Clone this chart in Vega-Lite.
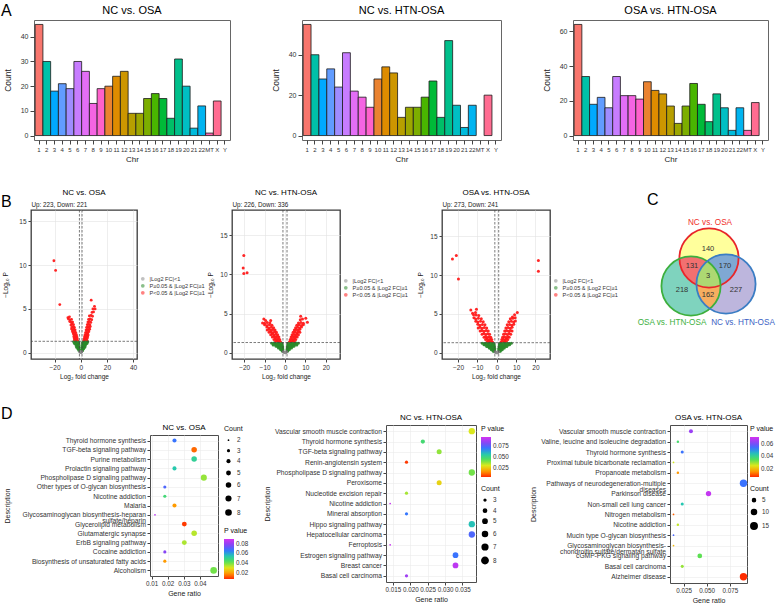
{
"$schema":"https://vega.github.io/schema/vega-lite/v6.json",
"padding":{"left":1,"top":2,"right":0,"bottom":0},
"background":"white",
"config":{
 "font":"Liberation Sans",
 "title":{"fontWeight":"normal","color":"#000"},
 "axis":{"labelColor":"#333","titleColor":"#222","titleFontWeight":"normal","tickColor":"#444","domainColor":"#444"},
 "legend":{"titleFontWeight":"normal","titleColor":"#111","labelColor":"#333"}
},
"datasets":{
 "chr1":[{"chr":"1","n":45},{"chr":"2","n":30},{"chr":"3","n":18},{"chr":"4","n":21},{"chr":"5","n":19},{"chr":"6","n":30},{"chr":"7","n":26},{"chr":"8","n":13},{"chr":"9","n":19},{"chr":"10","n":20},{"chr":"11","n":24},{"chr":"12","n":26},{"chr":"13","n":9},{"chr":"14","n":9},{"chr":"15","n":15},{"chr":"16","n":17},{"chr":"17","n":15},{"chr":"18","n":7},{"chr":"19","n":31},{"chr":"20","n":20},{"chr":"21","n":3},{"chr":"22","n":12},{"chr":"MT","n":1},{"chr":"X","n":14}],
 "chr2":[{"chr":"1","n":55},{"chr":"2","n":40},{"chr":"3","n":28},{"chr":"4","n":33},{"chr":"5","n":24},{"chr":"6","n":41},{"chr":"7","n":22},{"chr":"8","n":19},{"chr":"9","n":14},{"chr":"10","n":28},{"chr":"11","n":34},{"chr":"12","n":31},{"chr":"13","n":9},{"chr":"14","n":14},{"chr":"15","n":14},{"chr":"16","n":19},{"chr":"17","n":27},{"chr":"18","n":9},{"chr":"19","n":47},{"chr":"20","n":15},{"chr":"21","n":4},{"chr":"22","n":15},{"chr":"X","n":20}],
 "chr3":[{"chr":"1","n":64},{"chr":"2","n":34},{"chr":"3","n":18},{"chr":"4","n":22},{"chr":"5","n":16},{"chr":"6","n":34},{"chr":"7","n":23},{"chr":"8","n":23},{"chr":"9","n":21},{"chr":"10","n":31},{"chr":"11","n":26},{"chr":"12","n":24},{"chr":"13","n":17},{"chr":"14","n":7},{"chr":"15","n":17},{"chr":"16","n":30},{"chr":"17","n":18},{"chr":"18","n":8},{"chr":"19","n":24},{"chr":"20","n":16},{"chr":"21","n":3},{"chr":"22","n":16},{"chr":"MT","n":3},{"chr":"X","n":19}],
 "v1":[
{"x":-20.5,"y":10.5,"g":"s"},{"x":-19.2,"y":9.4,"g":"s"},{"x":-16,"y":5.5,"g":"s"},
{"x":-2.4,"y":1.4,"g":"s"},{"x":-3,"y":1.45,"g":"s"},{"x":-3.6,"y":1.38,"g":"s"},{"x":-4.2,"y":1.5,"g":"s"},{"x":-4.8,"y":1.42,"g":"s"},
{"x":-2.7,"y":1.65,"g":"s"},{"x":-3.4,"y":1.58,"g":"s"},{"x":-4.1,"y":1.7,"g":"s"},{"x":-4.9,"y":1.62,"g":"s"},
{"x":-3,"y":1.85,"g":"s"},{"x":-3.7,"y":1.78,"g":"s"},{"x":-4.5,"y":1.9,"g":"s"},{"x":-5.3,"y":1.82,"g":"s"},
{"x":-3.3,"y":2.05,"g":"s"},{"x":-4.1,"y":2.1,"g":"s"},{"x":-4.9,"y":2.0,"g":"s"},{"x":-5.7,"y":2.15,"g":"s"},
{"x":-3.8,"y":2.3,"g":"s"},{"x":-4.6,"y":2.38,"g":"s"},{"x":-5.5,"y":2.28,"g":"s"},{"x":-6.3,"y":2.4,"g":"s"},
{"x":-4.3,"y":2.6,"g":"s"},{"x":-5.2,"y":2.68,"g":"s"},{"x":-6.1,"y":2.55,"g":"s"},{"x":-7,"y":2.7,"g":"s"},
{"x":-4.9,"y":2.9,"g":"s"},{"x":-5.8,"y":2.98,"g":"s"},{"x":-6.8,"y":2.88,"g":"s"},
{"x":-5.5,"y":3.2,"g":"s"},{"x":-6.5,"y":3.28,"g":"s"},{"x":-7.5,"y":3.15,"g":"s"},
{"x":-6.2,"y":3.5,"g":"s"},{"x":-7.3,"y":3.45,"g":"s"},{"x":-8.4,"y":3.55,"g":"s"},
{"x":-7,"y":3.8,"g":"s"},{"x":-8.2,"y":3.75,"g":"s"},{"x":-9.4,"y":3.85,"g":"s"},
{"x":-9.8,"y":4,"g":"s"},{"x":-8.6,"y":4.1,"g":"s"},
{"x":2.4,"y":1.4,"g":"s"},{"x":3,"y":1.48,"g":"s"},{"x":3.6,"y":1.38,"g":"s"},{"x":4.2,"y":1.45,"g":"s"},{"x":4.8,"y":1.4,"g":"s"},
{"x":2.7,"y":1.62,"g":"s"},{"x":3.4,"y":1.68,"g":"s"},{"x":4.1,"y":1.58,"g":"s"},{"x":4.9,"y":1.66,"g":"s"},
{"x":3,"y":1.85,"g":"s"},{"x":3.7,"y":1.8,"g":"s"},{"x":4.5,"y":1.9,"g":"s"},{"x":5.3,"y":1.82,"g":"s"},
{"x":3.3,"y":2.05,"g":"s"},{"x":4.1,"y":2.0,"g":"s"},{"x":4.9,"y":2.12,"g":"s"},{"x":5.7,"y":2.02,"g":"s"},
{"x":3.7,"y":2.3,"g":"s"},{"x":4.5,"y":2.36,"g":"s"},{"x":5.4,"y":2.26,"g":"s"},{"x":6.2,"y":2.4,"g":"s"},
{"x":4.1,"y":2.6,"g":"s"},{"x":5,"y":2.66,"g":"s"},{"x":5.9,"y":2.56,"g":"s"},{"x":6.8,"y":2.68,"g":"s"},
{"x":4.5,"y":2.9,"g":"s"},{"x":5.5,"y":2.96,"g":"s"},{"x":6.5,"y":2.86,"g":"s"},{"x":7.3,"y":2.98,"g":"s"},
{"x":5,"y":3.2,"g":"s"},{"x":6,"y":3.26,"g":"s"},{"x":7,"y":3.16,"g":"s"},
{"x":5.5,"y":3.5,"g":"s"},{"x":6.6,"y":3.56,"g":"s"},{"x":7.7,"y":3.46,"g":"s"},
{"x":6,"y":3.8,"g":"s"},{"x":7.2,"y":3.86,"g":"s"},{"x":8.4,"y":3.76,"g":"s"},
{"x":6.6,"y":4.2,"g":"s"},{"x":7.9,"y":4.26,"g":"s"},{"x":9,"y":4.16,"g":"s"},
{"x":8.6,"y":4.6,"g":"s"},{"x":9.8,"y":4.66,"g":"s"},{"x":9.3,"y":5,"g":"s"},{"x":11,"y":5,"g":"s"},{"x":10.5,"y":5.3,"g":"s"},{"x":8,"y":6,"g":"s"},
{"x":-1.5,"y":1.2,"g":"f"},{"x":-2.5,"y":1.15,"g":"f"},{"x":-3.5,"y":1.22,"g":"f"},{"x":-4.5,"y":1.18,"g":"f"},{"x":-5.5,"y":1.24,"g":"f"},
{"x":1.5,"y":1.2,"g":"f"},{"x":2.5,"y":1.16,"g":"f"},{"x":3.5,"y":1.22,"g":"f"},{"x":4.5,"y":1.18,"g":"f"},{"x":5.5,"y":1.24,"g":"f"},
{"x":-1.3,"y":1,"g":"f"},{"x":-2.2,"y":0.96,"g":"f"},{"x":-3.1,"y":1.02,"g":"f"},{"x":-4,"y":0.98,"g":"f"},{"x":-4.9,"y":1.04,"g":"f"},
{"x":1.3,"y":1,"g":"f"},{"x":2.2,"y":0.96,"g":"f"},{"x":3.1,"y":1.02,"g":"f"},{"x":4,"y":0.98,"g":"f"},{"x":4.9,"y":1.04,"g":"f"},
{"x":-1.2,"y":0.8,"g":"f"},{"x":-2,"y":0.78,"g":"f"},{"x":-2.8,"y":0.82,"g":"f"},{"x":-3.6,"y":0.8,"g":"f"},
{"x":1.2,"y":0.8,"g":"f"},{"x":2,"y":0.78,"g":"f"},{"x":2.8,"y":0.82,"g":"f"},{"x":3.6,"y":0.8,"g":"f"},
{"x":-1.1,"y":0.6,"g":"f"},{"x":-1.8,"y":0.58,"g":"f"},{"x":-2.5,"y":0.62,"g":"f"},{"x":-3.2,"y":0.6,"g":"f"},
{"x":1.1,"y":0.6,"g":"f"},{"x":1.8,"y":0.58,"g":"f"},{"x":2.5,"y":0.62,"g":"f"},{"x":3.2,"y":0.6,"g":"f"},
{"x":-1.05,"y":0.4,"g":"f"},{"x":-1.6,"y":0.4,"g":"f"},{"x":-2.2,"y":0.42,"g":"f"},{"x":1.05,"y":0.4,"g":"f"},{"x":1.6,"y":0.4,"g":"f"},{"x":2.2,"y":0.42,"g":"f"},
{"x":-1,"y":0.2,"g":"f"},{"x":-1.4,"y":0.22,"g":"f"},{"x":1,"y":0.2,"g":"f"},{"x":1.4,"y":0.22,"g":"f"},
{"x":0,"y":0.02,"g":"n"},{"x":-0.5,"y":0.05,"g":"n"},{"x":0.5,"y":0.05,"g":"n"},{"x":-0.8,"y":0.12,"g":"n"},{"x":0.8,"y":0.12,"g":"n"},{"x":0.2,"y":0.01,"g":"n"}],
 "v2":[
{"x":-20.2,"y":12.4,"g":"s"},{"x":-20.5,"y":10.8,"g":"s"},{"x":-20.2,"y":10.1,"g":"s"},{"x":-18.6,"y":10.2,"g":"s"},
{"x":-2.2,"y":1.4,"g":"s"},{"x":-2.8,"y":1.46,"g":"s"},{"x":-3.4,"y":1.38,"g":"s"},{"x":-4,"y":1.5,"g":"s"},{"x":-4.6,"y":1.42,"g":"s"},
{"x":-2.6,"y":1.7,"g":"s"},{"x":-3.3,"y":1.76,"g":"s"},{"x":-4,"y":1.66,"g":"s"},{"x":-4.7,"y":1.78,"g":"s"},{"x":-5.4,"y":1.7,"g":"s"},
{"x":-3,"y":2,"g":"s"},{"x":-3.8,"y":2.06,"g":"s"},{"x":-4.6,"y":1.96,"g":"s"},{"x":-5.4,"y":2.08,"g":"s"},{"x":-6.2,"y":2,"g":"s"},
{"x":-3.6,"y":2.3,"g":"s"},{"x":-4.5,"y":2.36,"g":"s"},{"x":-5.4,"y":2.26,"g":"s"},{"x":-6.3,"y":2.38,"g":"s"},{"x":-7,"y":2.3,"g":"s"},
{"x":-4.2,"y":2.6,"g":"s"},{"x":-5.1,"y":2.66,"g":"s"},{"x":-6,"y":2.56,"g":"s"},{"x":-6.9,"y":2.68,"g":"s"},{"x":-7.8,"y":2.6,"g":"s"},
{"x":-4.9,"y":2.9,"g":"s"},{"x":-5.9,"y":2.96,"g":"s"},{"x":-6.9,"y":2.86,"g":"s"},{"x":-7.9,"y":2.98,"g":"s"},{"x":-8.7,"y":2.9,"g":"s"},
{"x":-5.6,"y":3.2,"g":"s"},{"x":-6.7,"y":3.26,"g":"s"},{"x":-7.8,"y":3.16,"g":"s"},{"x":-8.9,"y":3.28,"g":"s"},
{"x":-6.4,"y":3.5,"g":"s"},{"x":-7.6,"y":3.56,"g":"s"},{"x":-8.8,"y":3.46,"g":"s"},{"x":-10,"y":3.58,"g":"s"},
{"x":-7.4,"y":3.8,"g":"s"},{"x":-8.7,"y":3.86,"g":"s"},{"x":-10,"y":3.76,"g":"s"},{"x":-11,"y":3.8,"g":"s"},
{"x":-7,"y":4.1,"g":"s"},{"x":-9.5,"y":4.1,"g":"s"},{"x":-10.4,"y":4.3,"g":"s"},
{"x":2.2,"y":1.4,"g":"s"},{"x":2.8,"y":1.46,"g":"s"},{"x":3.4,"y":1.38,"g":"s"},{"x":4,"y":1.5,"g":"s"},{"x":4.6,"y":1.42,"g":"s"},
{"x":2.6,"y":1.7,"g":"s"},{"x":3.3,"y":1.76,"g":"s"},{"x":4,"y":1.66,"g":"s"},{"x":4.7,"y":1.78,"g":"s"},{"x":5.3,"y":1.7,"g":"s"},
{"x":3,"y":2,"g":"s"},{"x":3.8,"y":2.06,"g":"s"},{"x":4.6,"y":1.96,"g":"s"},{"x":5.4,"y":2.08,"g":"s"},{"x":6,"y":2,"g":"s"},
{"x":3.5,"y":2.3,"g":"s"},{"x":4.3,"y":2.36,"g":"s"},{"x":5.1,"y":2.26,"g":"s"},{"x":5.9,"y":2.38,"g":"s"},{"x":6.6,"y":2.3,"g":"s"},
{"x":4,"y":2.6,"g":"s"},{"x":4.9,"y":2.66,"g":"s"},{"x":5.8,"y":2.56,"g":"s"},{"x":6.6,"y":2.68,"g":"s"},{"x":7.3,"y":2.6,"g":"s"},
{"x":4.6,"y":2.9,"g":"s"},{"x":5.5,"y":2.96,"g":"s"},{"x":6.4,"y":2.86,"g":"s"},{"x":7.3,"y":2.98,"g":"s"},
{"x":5.2,"y":3.2,"g":"s"},{"x":6.2,"y":3.26,"g":"s"},{"x":7.2,"y":3.16,"g":"s"},{"x":8.1,"y":3.28,"g":"s"},
{"x":5.8,"y":3.5,"g":"s"},{"x":6.9,"y":3.56,"g":"s"},{"x":8,"y":3.46,"g":"s"},{"x":9,"y":3.58,"g":"s"},
{"x":6.6,"y":3.8,"g":"s"},{"x":7.8,"y":3.86,"g":"s"},{"x":9,"y":3.76,"g":"s"},{"x":11,"y":3.9,"g":"s"},
{"x":7.5,"y":4.2,"g":"s"},{"x":8.6,"y":4.3,"g":"s"},{"x":7.7,"y":4.65,"g":"s"},{"x":10.2,"y":4.4,"g":"s"},
{"x":-1.5,"y":1.2,"g":"f"},{"x":-2.5,"y":1.16,"g":"f"},{"x":-3.5,"y":1.22,"g":"f"},{"x":-4.5,"y":1.18,"g":"f"},{"x":-5.5,"y":1.24,"g":"f"},{"x":-6.5,"y":1.2,"g":"f"},
{"x":1.5,"y":1.2,"g":"f"},{"x":2.5,"y":1.16,"g":"f"},{"x":3.5,"y":1.22,"g":"f"},{"x":4.5,"y":1.18,"g":"f"},{"x":5.5,"y":1.24,"g":"f"},{"x":6.5,"y":1.2,"g":"f"},
{"x":-1.3,"y":1,"g":"f"},{"x":-2.2,"y":0.96,"g":"f"},{"x":-3.1,"y":1.02,"g":"f"},{"x":-4,"y":0.98,"g":"f"},{"x":-4.9,"y":1.04,"g":"f"},{"x":-5.8,"y":1,"g":"f"},
{"x":1.3,"y":1,"g":"f"},{"x":2.2,"y":0.96,"g":"f"},{"x":3.1,"y":1.02,"g":"f"},{"x":4,"y":0.98,"g":"f"},{"x":4.9,"y":1.04,"g":"f"},{"x":5.8,"y":1,"g":"f"},
{"x":-1.2,"y":0.8,"g":"f"},{"x":-2,"y":0.78,"g":"f"},{"x":-2.8,"y":0.82,"g":"f"},{"x":-3.6,"y":0.8,"g":"f"},{"x":-4.4,"y":0.82,"g":"f"},
{"x":1.2,"y":0.8,"g":"f"},{"x":2,"y":0.78,"g":"f"},{"x":2.8,"y":0.82,"g":"f"},{"x":3.6,"y":0.8,"g":"f"},{"x":4.4,"y":0.82,"g":"f"},
{"x":-1.1,"y":0.6,"g":"f"},{"x":-1.8,"y":0.58,"g":"f"},{"x":-2.5,"y":0.62,"g":"f"},{"x":-3.2,"y":0.6,"g":"f"},
{"x":1.1,"y":0.6,"g":"f"},{"x":1.8,"y":0.58,"g":"f"},{"x":2.5,"y":0.62,"g":"f"},{"x":3.2,"y":0.6,"g":"f"},
{"x":-1.05,"y":0.4,"g":"f"},{"x":-1.6,"y":0.4,"g":"f"},{"x":-2.2,"y":0.42,"g":"f"},{"x":1.05,"y":0.4,"g":"f"},{"x":1.6,"y":0.4,"g":"f"},{"x":2.2,"y":0.42,"g":"f"},
{"x":-1,"y":0.2,"g":"f"},{"x":-1.4,"y":0.22,"g":"f"},{"x":1,"y":0.2,"g":"f"},{"x":1.4,"y":0.22,"g":"f"},
{"x":0,"y":0.02,"g":"n"},{"x":-0.5,"y":0.05,"g":"n"},{"x":0.5,"y":0.05,"g":"n"},{"x":-0.8,"y":0.12,"g":"n"},{"x":0.8,"y":0.12,"g":"n"},{"x":0.2,"y":0.01,"g":"n"}],
 "v3":[
{"x":-22.9,"y":12.1,"g":"s"},{"x":-20.9,"y":12.55,"g":"s"},{"x":-19.8,"y":9.5,"g":"s"},{"x":21.5,"y":11.9,"g":"s"},{"x":21.5,"y":10.5,"g":"s"},
{"x":-2.2,"y":1.4,"g":"s"},{"x":-2.9,"y":1.46,"g":"s"},{"x":-3.6,"y":1.38,"g":"s"},{"x":-4.3,"y":1.5,"g":"s"},{"x":-5,"y":1.42,"g":"s"},
{"x":-2.6,"y":1.7,"g":"s"},{"x":-3.4,"y":1.76,"g":"s"},{"x":-4.2,"y":1.66,"g":"s"},{"x":-5,"y":1.78,"g":"s"},{"x":-5.8,"y":1.7,"g":"s"},
{"x":-3.1,"y":2,"g":"s"},{"x":-4,"y":2.06,"g":"s"},{"x":-4.9,"y":1.96,"g":"s"},{"x":-5.8,"y":2.08,"g":"s"},{"x":-6.6,"y":2,"g":"s"},
{"x":-3.7,"y":2.4,"g":"s"},{"x":-4.7,"y":2.46,"g":"s"},{"x":-5.7,"y":2.36,"g":"s"},{"x":-6.7,"y":2.48,"g":"s"},{"x":-7.6,"y":2.4,"g":"s"},
{"x":-4.4,"y":2.8,"g":"s"},{"x":-5.5,"y":2.86,"g":"s"},{"x":-6.6,"y":2.76,"g":"s"},{"x":-7.7,"y":2.88,"g":"s"},{"x":-8.6,"y":2.8,"g":"s"},
{"x":-5.2,"y":3.2,"g":"s"},{"x":-6.4,"y":3.26,"g":"s"},{"x":-7.6,"y":3.16,"g":"s"},{"x":-8.7,"y":3.28,"g":"s"},{"x":-9.6,"y":3.2,"g":"s"},
{"x":-6.1,"y":3.6,"g":"s"},{"x":-7.4,"y":3.66,"g":"s"},{"x":-8.7,"y":3.56,"g":"s"},{"x":-9.8,"y":3.68,"g":"s"},
{"x":-7,"y":4,"g":"s"},{"x":-8.4,"y":4.06,"g":"s"},{"x":-9.8,"y":3.96,"g":"s"},{"x":-10.8,"y":4.08,"g":"s"},
{"x":-8,"y":4.4,"g":"s"},{"x":-9.5,"y":4.46,"g":"s"},{"x":-10.9,"y":4.36,"g":"s"},{"x":-11.8,"y":4.5,"g":"s"},
{"x":-9.3,"y":4.8,"g":"s"},{"x":-10.7,"y":4.86,"g":"s"},{"x":-12,"y":4.9,"g":"s"},
{"x":-11,"y":5.2,"g":"s"},{"x":-12.5,"y":5.1,"g":"s"},{"x":-13.4,"y":5.5,"g":"s"},{"x":-10.5,"y":5.6,"g":"s"},
{"x":2.2,"y":1.4,"g":"s"},{"x":2.9,"y":1.46,"g":"s"},{"x":3.6,"y":1.38,"g":"s"},{"x":4.3,"y":1.5,"g":"s"},{"x":5,"y":1.42,"g":"s"},
{"x":2.6,"y":1.7,"g":"s"},{"x":3.4,"y":1.76,"g":"s"},{"x":4.2,"y":1.66,"g":"s"},{"x":5,"y":1.78,"g":"s"},{"x":5.7,"y":1.7,"g":"s"},
{"x":3,"y":2,"g":"s"},{"x":3.9,"y":2.06,"g":"s"},{"x":4.8,"y":1.96,"g":"s"},{"x":5.7,"y":2.08,"g":"s"},{"x":6.4,"y":2,"g":"s"},
{"x":3.5,"y":2.4,"g":"s"},{"x":4.5,"y":2.46,"g":"s"},{"x":5.5,"y":2.36,"g":"s"},{"x":6.5,"y":2.48,"g":"s"},{"x":7.2,"y":2.4,"g":"s"},
{"x":4.1,"y":2.8,"g":"s"},{"x":5.1,"y":2.86,"g":"s"},{"x":6.1,"y":2.76,"g":"s"},{"x":7.1,"y":2.88,"g":"s"},{"x":7.9,"y":2.8,"g":"s"},
{"x":4.7,"y":3.2,"g":"s"},{"x":5.8,"y":3.26,"g":"s"},{"x":6.9,"y":3.16,"g":"s"},{"x":7.9,"y":3.28,"g":"s"},
{"x":5.4,"y":3.6,"g":"s"},{"x":6.6,"y":3.66,"g":"s"},{"x":7.8,"y":3.56,"g":"s"},{"x":8.8,"y":3.68,"g":"s"},
{"x":6.2,"y":4,"g":"s"},{"x":7.5,"y":4.06,"g":"s"},{"x":8.7,"y":3.96,"g":"s"},{"x":9.6,"y":4.1,"g":"s"},
{"x":7,"y":4.4,"g":"s"},{"x":8.3,"y":4.46,"g":"s"},{"x":9.5,"y":4.5,"g":"s"},
{"x":8.1,"y":4.6,"g":"s"},{"x":9.2,"y":4.9,"g":"s"},{"x":10.6,"y":5.2,"g":"s"},
{"x":-1.5,"y":1.2,"g":"f"},{"x":-2.5,"y":1.16,"g":"f"},{"x":-3.5,"y":1.22,"g":"f"},{"x":-4.5,"y":1.18,"g":"f"},{"x":-5.5,"y":1.24,"g":"f"},{"x":-6.5,"y":1.2,"g":"f"},{"x":-7.5,"y":1.24,"g":"f"},
{"x":1.5,"y":1.2,"g":"f"},{"x":2.5,"y":1.16,"g":"f"},{"x":3.5,"y":1.22,"g":"f"},{"x":4.5,"y":1.18,"g":"f"},{"x":5.5,"y":1.24,"g":"f"},{"x":6.5,"y":1.2,"g":"f"},{"x":7.5,"y":1.24,"g":"f"},
{"x":-1.3,"y":1,"g":"f"},{"x":-2.2,"y":0.96,"g":"f"},{"x":-3.1,"y":1.02,"g":"f"},{"x":-4,"y":0.98,"g":"f"},{"x":-4.9,"y":1.04,"g":"f"},{"x":-5.8,"y":1,"g":"f"},{"x":-6.6,"y":1.04,"g":"f"},
{"x":1.3,"y":1,"g":"f"},{"x":2.2,"y":0.96,"g":"f"},{"x":3.1,"y":1.02,"g":"f"},{"x":4,"y":0.98,"g":"f"},{"x":4.9,"y":1.04,"g":"f"},{"x":5.8,"y":1,"g":"f"},{"x":6.6,"y":1.04,"g":"f"},
{"x":-1.2,"y":0.8,"g":"f"},{"x":-2,"y":0.78,"g":"f"},{"x":-2.8,"y":0.82,"g":"f"},{"x":-3.6,"y":0.8,"g":"f"},{"x":-4.4,"y":0.82,"g":"f"},{"x":-5.2,"y":0.8,"g":"f"},
{"x":1.2,"y":0.8,"g":"f"},{"x":2,"y":0.78,"g":"f"},{"x":2.8,"y":0.82,"g":"f"},{"x":3.6,"y":0.8,"g":"f"},{"x":4.4,"y":0.82,"g":"f"},{"x":5.2,"y":0.8,"g":"f"},
{"x":-1.1,"y":0.6,"g":"f"},{"x":-1.8,"y":0.58,"g":"f"},{"x":-2.5,"y":0.62,"g":"f"},{"x":-3.2,"y":0.6,"g":"f"},{"x":-3.9,"y":0.62,"g":"f"},
{"x":1.1,"y":0.6,"g":"f"},{"x":1.8,"y":0.58,"g":"f"},{"x":2.5,"y":0.62,"g":"f"},{"x":3.2,"y":0.6,"g":"f"},{"x":3.9,"y":0.62,"g":"f"},
{"x":-1.05,"y":0.4,"g":"f"},{"x":-1.6,"y":0.4,"g":"f"},{"x":-2.2,"y":0.42,"g":"f"},{"x":-2.8,"y":0.4,"g":"f"},{"x":1.05,"y":0.4,"g":"f"},{"x":1.6,"y":0.4,"g":"f"},{"x":2.2,"y":0.42,"g":"f"},{"x":2.8,"y":0.4,"g":"f"},
{"x":-1,"y":0.2,"g":"f"},{"x":-1.4,"y":0.22,"g":"f"},{"x":-1.8,"y":0.2,"g":"f"},{"x":1,"y":0.2,"g":"f"},{"x":1.4,"y":0.22,"g":"f"},{"x":1.8,"y":0.2,"g":"f"},
{"x":0,"y":0.02,"g":"n"},{"x":-0.5,"y":0.05,"g":"n"},{"x":0.5,"y":0.05,"g":"n"},{"x":-0.8,"y":0.12,"g":"n"},{"x":0.8,"y":0.12,"g":"n"},{"x":0.2,"y":0.01,"g":"n"}],
 "vennSets":[{"set":"NC vs. OSA","cx":60,"cy":48,"lx":61,"ly":13},{"set":"OSA vs. HTN-OSA","cx":42,"cy":76,"lx":23,"ly":113},{"set":"NC vs. HTN-OSA","cx":77,"cy":74,"lx":94,"ly":113}],
 "vennLens":[{"region":"131","x":60,"y":62},{"region":"170","x":60,"y":62},{"region":"162","x":60,"y":62},{"region":"3","x":60,"y":62}],
 "vennNums":[{"n":"140","x":59,"y":39},{"n":"131","x":43,"y":56},{"n":"170","x":76,"y":56},{"n":"3","x":59,"y":66},{"n":"218","x":33,"y":80},{"n":"162","x":59,"y":85},{"n":"227","x":87,"y":80}],
 "go1":[
{"d":"Thyroid hormone synthesis","r":0.0242,"c":4,"p":0.067},
{"d":"TGF-beta signaling pathway","r":0.0364,"c":6,"p":0.0136},
{"d":"Purine metabolism","r":0.0364,"c":6,"p":0.051},
{"d":"Prolactin signaling pathway","r":0.0242,"c":4,"p":0.054},
{"d":"Phospholipase D signaling pathway","r":0.0424,"c":7,"p":0.037},
{"d":"Other types of O-glycan biosynthesis","r":0.0182,"c":3,"p":0.07},
{"d":"Nicotine addiction","r":0.0182,"c":3,"p":0.047},
{"d":"Malaria","r":0.0242,"c":4,"p":0.019},
{"d":"Glycosaminoglycan biosynthesis-heparan\nsulfate/heparin","r":0.0121,"c":2,"p":0.086},
{"d":"Glycerolipid metabolism","r":0.0303,"c":5,"p":0.0087},
{"d":"Glutamatergic synapse","r":0.0364,"c":6,"p":0.034},
{"d":"ErbB signaling pathway","r":0.0303,"c":5,"p":0.035},
{"d":"Cocaine addiction","r":0.0182,"c":3,"p":0.078},
{"d":"Biosynthesis of unsaturated fatty acids","r":0.0182,"c":3,"p":0.019},
{"d":"Alcoholism","r":0.0485,"c":8,"p":0.04}],
 "go2":[
{"d":"Vascular smooth muscle contraction","r":0.0377,"c":8,"p":0.03},
{"d":"Thyroid hormone synthesis","r":0.0236,"c":5,"p":0.047},
{"d":"TGF-beta signaling pathway","r":0.0283,"c":6,"p":0.037},
{"d":"Renin-angiotensin system","r":0.0189,"c":4,"p":0.0054},
{"d":"Phospholipase D signaling pathway","r":0.0377,"c":8,"p":0.04},
{"d":"Peroxisome","r":0.0283,"c":6,"p":0.026},
{"d":"Nucleotide excision repair","r":0.0189,"c":4,"p":0.035},
{"d":"Nicotine addiction","r":0.0142,"c":3,"p":0.093},
{"d":"Mineral absorption","r":0.0189,"c":4,"p":0.069},
{"d":"Hippo signaling pathway","r":0.0377,"c":8,"p":0.057},
{"d":"Hepatocellular carcinoma","r":0.0377,"c":8,"p":0.073},
{"d":"Ferroptosis","r":0.0142,"c":3,"p":0.093},
{"d":"Estrogen signaling pathway","r":0.033,"c":7,"p":0.07},
{"d":"Breast cancer","r":0.033,"c":7,"p":0.091},
{"d":"Basal cell carcinoma","r":0.0189,"c":4,"p":0.086}],
 "go3":[
{"d":"Vascular smooth muscle contraction","r":0.033,"c":7,"p":0.065},
{"d":"Valine, leucine and isoleucine degradation","r":0.0189,"c":4,"p":0.037},
{"d":"Thyroid hormone synthesis","r":0.0236,"c":5,"p":0.054},
{"d":"Proximal tubule bicarbonate reclamation","r":0.0142,"c":3,"p":0.026},
{"d":"Propanoate metabolism","r":0.0189,"c":4,"p":0.0155},
{"d":"Pathways of neurodegeneration-multiple\ndiseases","r":0.0896,"c":19,"p":0.054},
{"d":"Parkinson disease","r":0.0519,"c":11,"p":0.07},
{"d":"Non-small cell lung cancer","r":0.0236,"c":5,"p":0.044},
{"d":"Nitrogen metabolism","r":0.0142,"c":3,"p":0.011},
{"d":"Nicotine addiction","r":0.0189,"c":4,"p":0.027},
{"d":"Mucin type O-glycan biosynthesis","r":0.0142,"c":3,"p":0.056},
{"d":"Glycosaminoglycan biosynthesis-\nchondroitin sulfate/dermatan sulfate","r":0.0142,"c":3,"p":0.0194},
{"d":"cGMP-PKG signaling pathway","r":0.0425,"c":9,"p":0.034},
{"d":"Basal cell carcinoma","r":0.0236,"c":5,"p":0.03},
{"d":"Alzheimer disease","r":0.0896,"c":19,"p":0.0065}]
},
"columns":1,
"align":"none",
"spacing":24,
"resolve":{"scale":{"color":"independent","fill":"independent","size":"independent","stroke":"independent","shape":"independent"}},
"concat":[
{"title":{"text":"A","anchor":"start","fontSize":16,"offset":-14},
 "spacing":0,
 "resolve":{"scale":{"color":"independent","fill":"independent","size":"independent","stroke":"independent"}},
 "hconcat":[
 {"width":1,"height":1,"view":{"stroke":null},"data":{"values":[]},"mark":"point"},
 {"bounds":"flush","spacing":72,
 "hconcat":[
  {"width":196,"height":120,"title":{"text":"NC vs. OSA","fontSize":11,"offset":4},
   "data":{"name":"chr1"},"view":{"stroke":"#666","strokeWidth":1},
   "mark":{"type":"bar","stroke":"#1a1a1a","strokeWidth":0.8},
   "encoding":{
    "x":{"field":"chr","type":"nominal","scale":{"domain":["1","2","3","4","5","6","7","8","9","10","11","12","13","14","15","16","17","18","19","20","21","22","MT","X","Y"],"paddingInner":0,"paddingOuter":0.15},"axis":{"title":"Chr","labelAngle":0,"labelFontSize":6,"labelOverlap":false,"domain":false,"tickSize":4,"labelPadding":2,"titleFontSize":8,"titlePadding":3}},
    "y":{"field":"n","type":"quantitative","scale":{"domain":[-1.8,46.8],"nice":false,"zero":false},"axis":{"title":"Count","values":[0,10,20,30,40],"domain":false,"grid":false,"tickSize":4,"labelFontSize":7,"labelPadding":2,"titleFontSize":8.5,"titlePadding":8}},
    "y2":{"datum":0},
    "color":{"field":"chr","type":"nominal","scale":{"domain":["1","2","3","4","5","6","7","8","9","10","11","12","13","14","15","16","17","18","19","20","21","22","MT","X","Y"],"range":["#F8766D","#00C1A9","#00A9FF","#619CFF","#9F8CFF","#C77CFF","#E36EF6","#F564E3","#FF61CC","#EA8331","#DE8C00","#CD9600","#B79F00","#9CA700","#7CAE00","#49B500","#00BA38","#00BE67","#00C08B","#00BFC4","#00BBDC","#00B4F0","#FF64B0","#FF6C91","#F8766D"]},"legend":null}}},
  {"width":199,"height":120,"title":{"text":"NC vs. HTN-OSA","fontSize":11,"offset":4},
   "data":{"name":"chr2"},"view":{"stroke":"#666","strokeWidth":1},
   "mark":{"type":"bar","stroke":"#1a1a1a","strokeWidth":0.8},
   "encoding":{
    "x":{"field":"chr","type":"nominal","scale":{"domain":["1","2","3","4","5","6","7","8","9","10","11","12","13","14","15","16","17","18","19","20","21","22","MT","X","Y"],"paddingInner":0,"paddingOuter":0.15},"axis":{"title":"Chr","labelAngle":0,"labelFontSize":6,"labelOverlap":false,"domain":false,"tickSize":4,"labelPadding":2,"titleFontSize":8,"titlePadding":3}},
    "y":{"field":"n","type":"quantitative","scale":{"domain":[-2.2,57.2],"nice":false,"zero":false},"axis":{"title":"Count","values":[0,20,40],"domain":false,"grid":false,"tickSize":4,"labelFontSize":7,"labelPadding":2,"titleFontSize":8.5,"titlePadding":8}},
    "y2":{"datum":0},
    "color":{"field":"chr","type":"nominal","scale":{"domain":["1","2","3","4","5","6","7","8","9","10","11","12","13","14","15","16","17","18","19","20","21","22","MT","X","Y"],"range":["#F8766D","#00C1A9","#00A9FF","#619CFF","#9F8CFF","#C77CFF","#E36EF6","#F564E3","#FF61CC","#EA8331","#DE8C00","#CD9600","#B79F00","#9CA700","#7CAE00","#49B500","#00BA38","#00BE67","#00C08B","#00BFC4","#00BBDC","#00B4F0","#FF64B0","#FF6C91","#F8766D"]},"legend":null}}},
  {"width":195,"height":120,"title":{"text":"OSA vs. HTN-OSA","fontSize":11,"offset":4},
   "data":{"name":"chr3"},"view":{"stroke":"#666","strokeWidth":1},
   "mark":{"type":"bar","stroke":"#1a1a1a","strokeWidth":0.8},
   "encoding":{
    "x":{"field":"chr","type":"nominal","scale":{"domain":["1","2","3","4","5","6","7","8","9","10","11","12","13","14","15","16","17","18","19","20","21","22","MT","X","Y"],"paddingInner":0,"paddingOuter":0.15},"axis":{"title":"Chr","labelAngle":0,"labelFontSize":6,"labelOverlap":false,"domain":false,"tickSize":4,"labelPadding":2,"titleFontSize":8,"titlePadding":3}},
    "y":{"field":"n","type":"quantitative","scale":{"domain":[-2.56,66.56],"nice":false,"zero":false},"axis":{"title":"Count","values":[0,20,40,60],"domain":false,"grid":false,"tickSize":4,"labelFontSize":7,"labelPadding":2,"titleFontSize":8.5,"titlePadding":8}},
    "y2":{"datum":0},
    "color":{"field":"chr","type":"nominal","scale":{"domain":["1","2","3","4","5","6","7","8","9","10","11","12","13","14","15","16","17","18","19","20","21","22","MT","X","Y"],"range":["#F8766D","#00C1A9","#00A9FF","#619CFF","#9F8CFF","#C77CFF","#E36EF6","#F564E3","#FF61CC","#EA8331","#DE8C00","#CD9600","#B79F00","#9CA700","#7CAE00","#49B500","#00BA38","#00BE67","#00C08B","#00BFC4","#00BBDC","#00B4F0","#FF64B0","#FF6C91","#F8766D"]},"legend":null}}}
 ]}]},
{"title":{"text":"B","anchor":"start","fontSize":16,"offset":-22},
 "spacing":0,
 "resolve":{"scale":{"color":"independent","fill":"independent","size":"independent","stroke":"independent","shape":"independent"}},
 "hconcat":[
 {"width":1,"height":1,"view":{"stroke":null},"data":{"values":[]},"mark":"point"},
 {"bounds":"flush","spacing":95,
 "resolve":{"scale":{"color":"independent","fill":"independent","size":"independent","stroke":"independent","shape":"independent"}},
 "hconcat":[
  {"width":106,"height":149,"title":{"text":"NC vs. OSA","fontSize":8,"offset":4},
   "view":{"stroke":"#3a3a3a","strokeWidth":1.3},
   "resolve":{"axis":{"x":"independent"}},
   "layer":[
    {"data":{"name":"v1"},"mark":{"type":"point","filled":true,"size":8,"opacity":0.95},
     "encoding":{
      "x":{"field":"x","type":"quantitative","scale":{"domain":[-38,43],"nice":false,"zero":false},"axis":{"title":"Log₂ fold change","values":[-20,0,20,40],"gridColor":"#E3E3E3","gridWidth":0.6,"domain":false,"tickSize":3,"labelFontSize":6.5,"labelPadding":2,"titleFontSize":6.5,"titlePadding":3}},
      "y":{"field":"y","type":"quantitative","scale":{"domain":[-0.72,16.3],"nice":false,"zero":false},"axis":{"title":"−Log₁₀ P","values":[0,5,10,15],"gridColor":"#E3E3E3","gridWidth":0.6,"domain":false,"tickSize":3,"labelFontSize":6.5,"labelPadding":2,"titleFontSize":6.5,"titlePadding":10}},
      "color":{"field":"g","type":"nominal","scale":{"domain":["n","f","s"],"range":["#8C8C8C","#2A8A2A","#FF1A1A"]},"legend":{"title":null,"orient":"none","legendX":109,"legendY":66,"labelExpr":"datum.label == 'n' ? '|Log2 FC|<1' : datum.label == 'f' ? 'P≥0.05 & |Log2 FC|≥1' : 'P<0.05 & |Log2 FC|≥1'","symbolSize":14,"symbolOpacity":0.55,"labelFontSize":5.6,"rowPadding":0,"symbolStrokeWidth":0}}}},
    {"data":{"values":[{"x":-1},{"x":1}]},"mark":{"type":"rule","strokeDash":[2.5,1.5],"color":"#444","strokeWidth":0.7},
     "encoding":{"x":{"field":"x","type":"quantitative","axis":{"orient":"top","title":"Up: 223, Down: 221","labels":false,"ticks":false,"domain":false,"grid":false,"titleAnchor":"start","titleAlign":"left","titleFontSize":6.3,"titlePadding":3}}}},
    {"data":{"values":[{"y":1.301}]},"mark":{"type":"rule","strokeDash":[2.5,1.5],"color":"#444","strokeWidth":0.7},
     "encoding":{"y":{"field":"y","type":"quantitative"}}}
   ]},
  {"bounds":"flush","spacing":102,
   "resolve":{"scale":{"color":"independent","fill":"independent","size":"independent","stroke":"independent","shape":"independent"}},
   "hconcat":[
  {"width":108,"height":149,"title":{"text":"NC vs. HTN-OSA","fontSize":8,"offset":4},
   "view":{"stroke":"#3a3a3a","strokeWidth":1.3},
   "resolve":{"axis":{"x":"independent"}},
   "layer":[
    {"data":{"name":"v2"},"mark":{"type":"point","filled":true,"size":9,"opacity":0.95},
     "encoding":{
      "x":{"field":"x","type":"quantitative","scale":{"domain":[-26,27],"nice":false,"zero":false},"axis":{"title":"Log₂ fold change","values":[-20,-10,0,10,20],"gridColor":"#E3E3E3","gridWidth":0.6,"domain":false,"tickSize":3,"labelFontSize":6.5,"labelPadding":2,"titleFontSize":6.5,"titlePadding":3}},
      "y":{"field":"y","type":"quantitative","scale":{"domain":[-0.8,18.2],"nice":false,"zero":false},"axis":{"title":"−Log₁₀ P","values":[0,5,10,15],"gridColor":"#E3E3E3","gridWidth":0.6,"domain":false,"tickSize":3,"labelFontSize":6.5,"labelPadding":2,"titleFontSize":6.5,"titlePadding":6}},
      "color":{"field":"g","type":"nominal","scale":{"domain":["n","f","s"],"range":["#8C8C8C","#2A8A2A","#FF1A1A"]},"legend":{"title":null,"orient":"none","legendX":111,"legendY":68,"labelExpr":"datum.label == 'n' ? '|Log2 FC|<1' : datum.label == 'f' ? 'P≥0.05 & |Log2 FC|≥1' : 'P<0.05 & |Log2 FC|≥1'","symbolSize":14,"symbolOpacity":0.55,"labelFontSize":5.6,"rowPadding":0,"symbolStrokeWidth":0}}}},
    {"data":{"values":[{"x":-1},{"x":1}]},"mark":{"type":"rule","strokeDash":[2.5,1.5],"color":"#444","strokeWidth":0.7},
     "encoding":{"x":{"field":"x","type":"quantitative","axis":{"orient":"top","title":"Up: 226, Down: 336","labels":false,"ticks":false,"domain":false,"grid":false,"titleAnchor":"start","titleAlign":"left","titleFontSize":6.3,"titlePadding":3}}}},
    {"data":{"values":[{"y":1.301}]},"mark":{"type":"rule","strokeDash":[2.5,1.5],"color":"#444","strokeWidth":0.7},
     "encoding":{"y":{"field":"y","type":"quantitative"}}}
   ]},
  {"bounds":"flush","spacing":89,
   "resolve":{"scale":{"color":"independent","fill":"independent","size":"independent","stroke":"independent","shape":"independent"}},
   "hconcat":[
  {"width":108,"height":149,"title":{"text":"OSA vs. HTN-OSA","fontSize":8,"offset":4},
   "view":{"stroke":"#3a3a3a","strokeWidth":1.3},
   "resolve":{"axis":{"x":"independent"}},
   "layer":[
    {"data":{"name":"v3"},"mark":{"type":"point","filled":true,"size":9,"opacity":0.95},
     "encoding":{
      "x":{"field":"x","type":"quantitative","scale":{"domain":[-28.3,27.5],"nice":false,"zero":false},"axis":{"title":"Log₂ fold change","values":[-20,-10,0,10,20],"gridColor":"#E3E3E3","gridWidth":0.6,"domain":false,"tickSize":3,"labelFontSize":6.5,"labelPadding":2,"titleFontSize":6.5,"titlePadding":3}},
      "y":{"field":"y","type":"quantitative","scale":{"domain":[-0.8,18.4],"nice":false,"zero":false},"axis":{"title":"−Log₁₀ P","values":[0,5,10,15],"gridColor":"#E3E3E3","gridWidth":0.6,"domain":false,"tickSize":3,"labelFontSize":6.5,"labelPadding":2,"titleFontSize":6.5,"titlePadding":6}},
      "color":{"field":"g","type":"nominal","scale":{"domain":["n","f","s"],"range":["#8C8C8C","#2A8A2A","#FF1A1A"]},"legend":{"title":null,"orient":"none","legendX":111,"legendY":68,"labelExpr":"datum.label == 'n' ? '|Log2 FC|<1' : datum.label == 'f' ? 'P≥0.05 & |Log2 FC|≥1' : 'P<0.05 & |Log2 FC|≥1'","symbolSize":14,"symbolOpacity":0.55,"labelFontSize":5.6,"rowPadding":0,"symbolStrokeWidth":0}}}},
    {"data":{"values":[{"x":-1},{"x":1}]},"mark":{"type":"rule","strokeDash":[2.5,1.5],"color":"#444","strokeWidth":0.7},
     "encoding":{"x":{"field":"x","type":"quantitative","axis":{"orient":"top","title":"Up: 273, Down: 241","labels":false,"ticks":false,"domain":false,"grid":false,"titleAnchor":"start","titleAlign":"left","titleFontSize":6.3,"titlePadding":3}}}},
    {"data":{"values":[{"y":1.301}]},"mark":{"type":"rule","strokeDash":[2.5,1.5],"color":"#444","strokeWidth":0.7},
     "encoding":{"y":{"field":"y","type":"quantitative"}}}
   ]},
  {"width":140,"height":125,"title":{"text":"C","anchor":"start","fontSize":16,"offset":2,"frame":"group","dx":8},
   "view":{"stroke":null},
   "resolve":{"scale":{"color":"independent","fill":"independent","stroke":"independent","shape":"independent"}},
   "layer":[
    {"data":{"name":"vennSets"},"mark":{"type":"point","shape":"circle","filled":true,"size":3500,"opacity":1},
     "encoding":{"x":{"field":"cx","type":"quantitative","scale":{"domain":[-10,130],"nice":false,"zero":false},"axis":null},"y":{"field":"cy","type":"quantitative","scale":{"domain":[0,125],"nice":false,"zero":false,"reverse":true},"axis":null},
      "fill":{"field":"set","type":"nominal","scale":{"domain":["NC vs. OSA","OSA vs. HTN-OSA","NC vs. HTN-OSA"],"range":["#FFFF9C","#7FD3BE","#BDB6DD"]},"legend":null}}},
    {"data":{"name":"vennLens"},"mark":{"type":"point","filled":true,"size":3600,"opacity":1,"strokeWidth":0},
     "encoding":{"x":{"field":"x","type":"quantitative"},"y":{"field":"y","type":"quantitative"},
      "shape":{"field":"region","type":"nominal","scale":{"domain":["131","170","162","3"],"range":["M-0.9856,-0.4407A0.986,0.986,0,0,0,-0.4191,0.426A0.986,0.986,0,0,1,-0.062,-0.3596A0.986,0.986,0,0,0,-0.9856,-0.4407Z","M0.9857,-0.4926A0.986,0.986,0,0,1,0.3856,0.4407A0.986,0.986,0,0,0,-0.062,-0.3596A0.986,0.986,0,0,1,0.9857,-0.4926Z","M0.0286,1.2262A0.986,0.986,0,0,0,0.3856,0.4407A0.986,0.986,0,0,1,-0.4191,0.426A0.986,0.986,0,0,0,0.0286,1.2262Z","M-0.062,-0.3596A0.986,0.986,0,0,1,0.3856,0.4407A0.986,0.986,0,0,1,-0.4191,0.426A0.986,0.986,0,0,1,-0.062,-0.3596Z"]},"legend":null},
      "fill":{"field":"region","type":"nominal","scale":{"domain":["131","170","162","3"],"range":["#F27070","#7FA8D3","#F7AE60","#ADD872"]},"legend":null}}},
    {"data":{"name":"vennSets"},"mark":{"type":"point","shape":"circle","filled":false,"size":3500,"strokeWidth":1.8,"opacity":1},
     "encoding":{"x":{"field":"cx","type":"quantitative"},"y":{"field":"cy","type":"quantitative"},
      "stroke":{"field":"set","type":"nominal","scale":{"domain":["NC vs. OSA","OSA vs. HTN-OSA","NC vs. HTN-OSA"],"range":["#E8262A","#3DAF3D","#3B7DC4"]},"legend":null}}},
    {"data":{"name":"vennSets"},"mark":{"type":"text","fontSize":8.2},
     "encoding":{"x":{"field":"lx","type":"quantitative"},"y":{"field":"ly","type":"quantitative"},"text":{"field":"set"},
      "color":{"field":"set","type":"nominal","scale":{"domain":["NC vs. OSA","OSA vs. HTN-OSA","NC vs. HTN-OSA"],"range":["#F0302A","#3DB03D","#3B5FC4"]},"legend":null}}},
    {"data":{"name":"vennNums"},"mark":{"type":"text","fontSize":7.5,"color":"#333"},
     "encoding":{"x":{"field":"x","type":"quantitative"},"y":{"field":"y","type":"quantitative"},"text":{"field":"n"}}}
   ]}
  ]}]}]}]},
{"title":{"text":"D","anchor":"start","fontSize":16,"offset":-8},
 "spacing":0,
 "resolve":{"scale":{"color":"independent","fill":"independent","size":"independent","stroke":"independent"}},
 "hconcat":[
 {"width":1,"height":1,"view":{"stroke":null},"data":{"values":[]},"mark":"point"},
 {"bounds":"flush","spacing":236,
 "resolve":{"scale":{"color":"independent","size":"independent"}},
 "hconcat":[
  {"bounds":"flush","spacing":9,
   "vconcat":[
    {"width":68,"height":1,"view":{"stroke":null},"data":{"values":[]},"mark":"point"},
    {"width":68,"height":141,"title":{"text":"NC vs. OSA","fontSize":8,"offset":3},
     "data":{"name":"go1"},"view":{"stroke":"#4d4d4d","strokeWidth":1},
     "encoding":{
      "y":{"field":"d","type":"nominal","sort":null,"scale":{"type":"point","padding":0.6},"axis":{"title":"Description","labelExpr":"split(datum.label, '\\n')","labelLineHeight":6.2,"labelFontSize":6.7,"labelColor":"#333","tickSize":3,"labelPadding":1.5,"domain":false,"grid":true,"gridColor":"#EBEBEB","gridWidth":0.6,"titleFontSize":7,"titlePadding":12,"labelLimit":300}},
      "x":{"field":"r","type":"quantitative","scale":{"domain":[0.009,0.0512],"nice":false,"zero":false},"axis":{"title":"Gene ratio","values":[0.01,0.02,0.03,0.04],"format":".2f","labelFontSize":6.3,"tickSize":3,"labelPadding":1.5,"domain":false,"gridColor":"#EBEBEB","gridWidth":0.6,"titleFontSize":7,"titlePadding":3}},
      "size":{"field":"c","type":"quantitative","scale":{"domain":[2,8],"range":[3,44]},"legend":{"title":"Count","values":[2,3,4,5,6,7,8],"symbolFillColor":"#000","symbolStrokeColor":"#000","offset":5,"labelFontSize":6.3,"titleFontSize":7,"rowPadding":0.5}}},
     "layer":[
      {"transform":[{"filter":"false"}],"mark":{"type":"circle","opacity":1,"color":"black"}},
      {"mark":{"type":"circle","opacity":1,"color":"black"},
       "encoding":{"color":{"field":"p","type":"quantitative","scale":{"domain":[0.007,0.09],"range":["#FF2A00","#FF9A00","#DDE81C","#55E055","#25C8B0","#3377FF","#8844F5","#D433F0"],"interpolate":"rgb"},"legend":{"title":"P value","values":[0.02,0.04,0.06,0.08],"format":".2f","gradientLength":40,"gradientThickness":10,"offset":5,"labelFontSize":6.3,"titleFontSize":7}}}}
     ]}
   ]},
  {"bounds":"flush","spacing":194,
   "resolve":{"scale":{"color":"independent","size":"independent"}},
   "hconcat":[
  {"width":90,"height":157,"title":{"text":"NC vs. HTN-OSA","fontSize":8,"offset":3},
   "data":{"name":"go2"},"view":{"stroke":"#4d4d4d","strokeWidth":1},
   "mark":{"type":"circle","opacity":1,"color":"black"},
   "encoding":{
    "y":{"field":"d","type":"nominal","sort":null,"scale":{"type":"point","padding":0.6},"axis":{"title":"Description","labelExpr":"split(datum.label, '\\n')","labelLineHeight":6.2,"labelFontSize":6.7,"labelColor":"#333","tickSize":3,"labelPadding":1.5,"domain":false,"grid":true,"gridColor":"#EBEBEB","gridWidth":0.6,"titleFontSize":7,"titlePadding":4,"labelLimit":300}},
    "x":{"field":"r","type":"quantitative","scale":{"domain":[0.013,0.0389],"nice":false,"zero":false},"axis":{"title":"Gene ratio","values":[0.015,0.02,0.025,0.03,0.035],"format":".3f","labelFontSize":6.3,"tickSize":3,"labelPadding":1.5,"domain":false,"gridColor":"#EBEBEB","gridWidth":0.6,"titleFontSize":7,"titlePadding":3}},
    "size":{"field":"c","type":"quantitative","scale":{"domain":[3,8],"range":[3,40]},"legend":{"title":"Count","values":[3,4,5,6,7,8],"symbolFillColor":"#000","symbolStrokeColor":"#000","offset":5,"labelFontSize":6.3,"titleFontSize":7,"rowPadding":0.5}},
    "color":{"field":"p","type":"quantitative","scale":{"domain":[0.0036,0.095],"range":["#FF2A00","#FF9A00","#DDE81C","#55E055","#25C8B0","#3377FF","#8844F5","#D433F0"],"interpolate":"rgb"},"legend":{"title":"P value","values":[0.025,0.05,0.075],"format":".3f","gradientLength":40,"gradientThickness":10,"offset":5,"labelFontSize":6.3,"titleFontSize":7}}}},
  {"width":77,"height":158,"title":{"text":"OSA vs. HTN-OSA","fontSize":8,"offset":3},
   "data":{"name":"go3"},"view":{"stroke":"#4d4d4d","strokeWidth":1},
   "mark":{"type":"circle","opacity":1,"color":"black"},
   "encoding":{
    "y":{"field":"d","type":"nominal","sort":null,"scale":{"type":"point","padding":0.6},"axis":{"title":"Description","labelExpr":"split(datum.label, '\\n')","labelLineHeight":6.2,"labelFontSize":6.7,"labelColor":"#333","tickSize":3,"labelPadding":1.5,"domain":false,"grid":true,"gridColor":"#EBEBEB","gridWidth":0.6,"titleFontSize":7,"titlePadding":4,"labelLimit":300}},
    "x":{"field":"r","type":"quantitative","scale":{"domain":[0.0104,0.0934],"nice":false,"zero":false},"axis":{"title":"Gene ratio","values":[0.025,0.05,0.075],"format":".3f","labelFontSize":6.3,"tickSize":3,"labelPadding":1.5,"domain":false,"gridColor":"#EBEBEB","gridWidth":0.6,"titleFontSize":7,"titlePadding":3}},
    "size":{"field":"c","type":"quantitative","scale":{"domain":[3,19],"range":[3,54]},"legend":{"title":"Count","values":[5,10,15],"symbolFillColor":"#000","symbolStrokeColor":"#000","offset":3,"labelFontSize":6.3,"titleFontSize":7,"rowPadding":0.5}},
    "color":{"field":"p","type":"quantitative","scale":{"domain":[0.0063,0.072],"range":["#FF2A00","#FF9A00","#DDE81C","#55E055","#25C8B0","#3377FF","#8844F5","#D433F0"],"interpolate":"rgb"},"legend":{"title":"P value","values":[0.02,0.04,0.06],"format":".2f","gradientLength":40,"gradientThickness":9,"offset":3,"labelFontSize":6.3,"titleFontSize":7}}}}
  ]}]}]}
]
}
